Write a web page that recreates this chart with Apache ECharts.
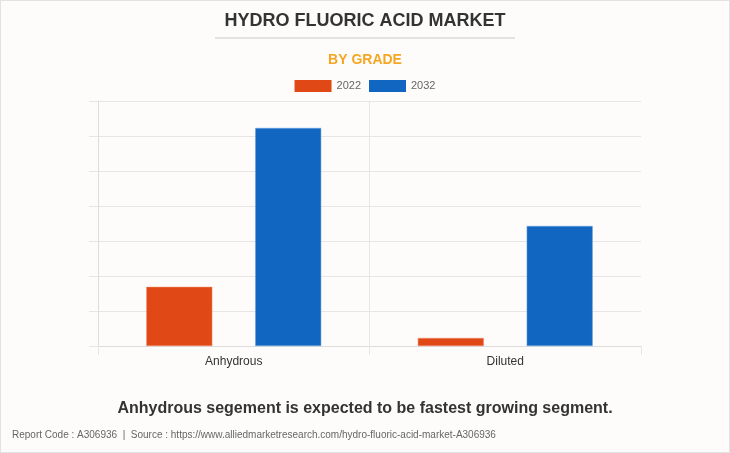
<!DOCTYPE html>
<html>
<head>
<meta charset="utf-8">
<script src="https://cdn.jsdelivr.net/npm/echarts@6/dist/echarts.min.js"></script>
<style>
html,body{margin:0;padding:0;background:#fff;}
#wrap{position:absolute;left:0;top:0;width:728px;height:451px;border:1px solid #e2e2e2;background:#fdfcfb;}
#chart{width:728px;height:451px;}
</style>
</head>
<body>
<div id="wrap"><div id="chart"></div></div>
<script>
const categories = ['Anhydrous', 'Diluted'];
const seriesNames = ['2022', '2032'];
const values2022 = [1.69, 0.23];
const values2032 = [6.23, 3.43];

const chart = echarts.init(document.getElementById('chart'), null, {renderer: 'canvas'});
const font = '"Liberation Sans", Arial, sans-serif';
chart.setOption({
  backgroundColor: 'transparent',
  animation: false,
  title: [{
    text: 'HYDRO FLUORIC ACID MARKET',
    left: 'center', top: 6,
    textStyle: {fontFamily: font, fontSize: 18, fontWeight: 'bold', color: '#333'}
  }, {
    text: 'BY GRADE',
    left: 'center', top: 47,
    textStyle: {fontFamily: font, fontSize: 14, fontWeight: 'bold', color: '#f5a623'}
  }, {
    text: 'Anhydrous segement is expected to be fastest growing segment.',
    left: 'center', top: 395,
    textStyle: {fontFamily: font, fontSize: 16, fontWeight: 'bold', color: '#333'}
  }, {
    text: 'Report Code : A306936  |  Source : https://www.alliedmarketresearch.com/hydro-fluoric-acid-market-A306936',
    left: 11, top: 429, padding: 0,
    textStyle: {fontFamily: font, fontSize: 10, fontWeight: 'normal', color: '#666'}
  }],
  graphic: [{
    type: 'line', shape: {x1: 214, y1: 37, x2: 514, y2: 37},
    style: {stroke: '#c8c8c8', lineWidth: 1}
  }],
  legend: {
    top: 74, left: 'center',
    icon: 'rect',
    itemWidth: 37, itemHeight: 12, itemGap: 8,
    itemStyle: {borderWidth: 0},
    textStyle: {fontFamily: font, fontSize: 11, color: '#666'},
    data: seriesNames
  },
  grid: {left: 97, right: 88, top: 100, bottom: 106, containLabel: false},
  xAxis: {
    type: 'category',
    data: categories,
    axisLine: {show: true, lineStyle: {color: '#ddd'}},
    axisTick: {show: true, length: 9, lineStyle: {color: '#e6e6e6'}, interval: 0},
    splitLine: {show: true, showMaxLine: false, lineStyle: {color: '#e6e6e6'}},
    axisLabel: {fontFamily: font, fontSize: 12, color: '#333', margin: 10}
  },
  yAxis: {
    type: 'value', min: 0, max: 7, interval: 1,
    axisLine: {show: true, lineStyle: {color: '#ddd'}},
    axisTick: {show: true, length: 9, lineStyle: {color: '#e6e6e6'}},
    axisLabel: {show: false},
    splitLine: {show: true, lineStyle: {color: '#e6e6e6'}}
  },
  series: [{
    name: '2022', type: 'bar', data: values2022,
    barWidth: 66, barGap: '65%',
    itemStyle: {color: '#e04916', borderColor: '#f08a6a', borderWidth: 0.5}
  }, {
    name: '2032', type: 'bar', data: values2032,
    barWidth: 66,
    itemStyle: {color: '#1166c1', borderColor: '#6fa3dc', borderWidth: 0.5}
  }]
});
</script>
</body>
</html>
